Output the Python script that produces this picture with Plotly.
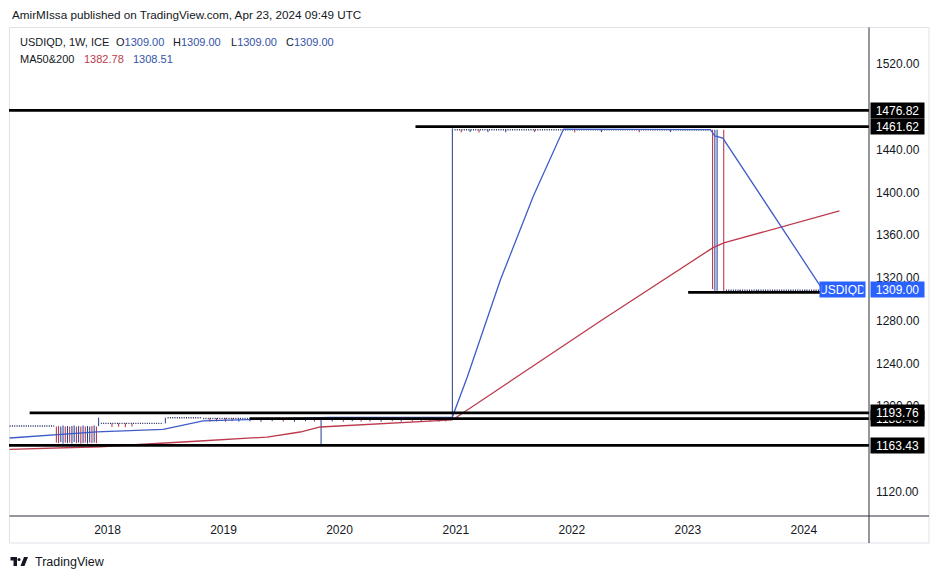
import plotly.graph_objects as go

# ---------------- data ----------------
x_range = ["2017-02-25", "2024-07-24"]
y_range = [1097.3, 1554.9]

year_ticks = ["2018-01-01", "2019-01-01", "2020-01-01", "2021-01-01",
              "2022-01-01", "2023-01-01", "2024-01-01"]
year_labels = ["2018", "2019", "2020", "2021", "2022", "2023", "2024"]
# 1160 and 1480 are fully hidden behind level labels in the reference
price_ticks = [1120, 1200, 1240, 1280, 1320, 1360, 1400, 1440, 1520]

# flat stretches of weekly bars (O=H=L=C) that show as a dotted row
row_start = ["2017-02-27", "2017-12-11", "2018-07-09", "2018-10-29", "2020-12-28", "2023-05-01"]
row_end = ["2017-07-17", "2018-06-25", "2018-10-22", "2020-12-14", "2023-03-13", "2024-04-22"]
row_level = [1181.5, 1184.0, 1189.3, 1188.6, 1458.8, 1308.5]

# weekly bars that have a visible range (date, high, low, direction)
bar_dates = [
    "2017-07-24", "2017-07-31", "2017-08-07", "2017-08-14", "2017-08-21", "2017-08-28",
    "2017-09-04", "2017-09-11", "2017-09-18", "2017-09-25", "2017-10-02", "2017-10-09",
    "2017-10-16", "2017-10-23", "2017-10-30", "2017-11-06", "2017-11-13", "2017-11-20",
    "2017-11-27", "2017-12-04",
    "2018-01-15", "2018-02-05", "2018-02-26", "2018-03-19", "2018-07-02",
    "2018-11-19", "2018-12-10", "2019-01-07", "2019-01-28", "2019-02-18", "2019-03-25",
    "2019-04-29", "2019-06-03", "2019-07-08", "2019-08-12", "2019-09-16", "2019-10-14",
    "2019-11-04", "2019-12-09", "2020-01-13", "2020-02-10", "2020-03-09", "2020-04-06",
    "2020-05-11", "2020-06-15", "2020-07-13", "2020-08-17", "2020-09-14", "2020-10-12",
    "2020-11-09", "2020-11-30", "2020-12-21",
    "2021-01-18", "2021-02-15", "2021-03-15", "2021-04-12", "2021-06-07", "2021-09-06",
    "2022-01-10", "2022-04-04", "2022-08-01", "2022-11-07",
    "2023-03-20", "2023-03-27", "2023-04-03", "2023-04-24",
    "2023-06-12", "2023-08-07", "2023-10-02", "2023-11-20", "2024-01-08", "2024-02-05",
]
bar_high = [
    1181.0, 1181.5, 1181.0, 1182.0, 1181.0, 1181.5,
    1181.0, 1181.5, 1182.0, 1181.0, 1181.5, 1181.0,
    1182.0, 1181.0, 1181.5, 1181.0, 1181.5, 1182.0,
    1181.0, 1189.3,
    1184.0, 1184.0, 1184.0, 1184.0, 1189.3,
    1188.8, 1188.8, 1188.8, 1188.8, 1188.8, 1188.8,
    1188.8, 1188.8, 1188.8, 1188.8, 1188.8, 1188.8,
    1188.8, 1188.8, 1188.8, 1188.8, 1188.8, 1188.8,
    1188.8, 1188.8, 1188.8, 1188.8, 1188.8, 1188.8,
    1188.8, 1188.8, 1460.0,
    1458.8, 1458.8, 1458.8, 1458.8, 1458.8, 1458.8,
    1458.8, 1458.8, 1458.8, 1458.8,
    1458.8, 1458.8, 1458.8, 1458.8,
    1308.6, 1308.6, 1308.6, 1308.6, 1308.6, 1308.6,
]
bar_low = [
    1166.0, 1165.5, 1166.5, 1165.0, 1166.0, 1165.5,
    1166.0, 1165.0, 1166.5, 1165.5, 1166.0, 1165.0,
    1165.5, 1166.0, 1165.0, 1166.0, 1165.5, 1166.0,
    1165.5, 1181.5,
    1180.6, 1180.8, 1180.4, 1181.0, 1184.0,
    1185.6, 1185.8, 1185.5, 1186.0, 1185.6, 1185.9,
    1185.5, 1186.0, 1185.7, 1185.5, 1186.0, 1185.6,
    1163.5, 1185.8, 1185.5, 1186.0, 1185.6, 1185.8,
    1185.5, 1186.0, 1185.6, 1185.8, 1185.5, 1186.0,
    1185.6, 1185.8, 1188.6,
    1456.3, 1456.6, 1456.2, 1456.5, 1456.4, 1456.6,
    1456.3, 1456.5, 1456.4, 1456.6,
    1309.6, 1308.0, 1308.0, 1307.2,
    1306.0, 1306.3, 1306.0, 1306.2, 1306.1, 1306.0,
]
bar_dir = [
    "d", "d", "u", "u", "d", "u",
    "d", "u", "u", "d", "u", "d",
    "u", "d", "u", "u", "d", "u",
    "d", "u",
    "d", "d", "d", "d", "u",
    "d", "d", "d", "d", "u", "u",
    "u", "u", "d", "u", "u", "d",
    "u", "u", "d", "u", "d", "d",
    "u", "d", "u", "d", "u", "d",
    "u", "u", "u",
    "d", "u", "d", "u", "u", "d",
    "d", "u", "d", "u",
    "d", "u", "u", "d",
    "d", "u", "d", "u", "u", "d",
]

# moving averages
ma200_dates = ["2017-02-27", "2017-12-08", "2018-10-19", "2019-05-18", "2019-08-30",
               "2019-11-01", "2020-12-21", "2022-04-01", "2023-03-20", "2023-04-24",
               "2024-04-22"]
ma200_vals = [1159.7, 1162.1, 1167.5, 1171.2, 1175.9, 1180.6, 1187.2, 1279.8,
              1348.2, 1352.9, 1382.78]
ma50_dates = ["2017-02-27", "2017-11-28", "2018-06-25", "2018-10-29", "2019-12-03",
              "2020-12-21", "2021-02-06", "2021-05-21", "2021-09-02", "2021-12-06",
              "2023-03-13", "2023-03-27", "2023-04-21", "2024-02-26", "2024-04-22"]
ma50_vals = [1170.3, 1176.1, 1178.4, 1186.4, 1189.6, 1189.9, 1227.4, 1318.1,
             1396.7, 1459.4, 1458.8, 1452.9, 1451.0, 1310.6, 1308.51]

# horizontal levels drawn by the author
level_vals = [1476.82, 1461.62, 1193.76, 1188.40, 1163.43, 1306.50]
level_start = ["2017-02-25", "2020-08-27", "2017-05-01", "2019-03-25", "2017-02-25", "2023-01-02"]
level_end = ["2024-07-24", "2024-07-24", "2024-07-24", "2024-07-24", "2024-07-24", "2024-04-22"]

# price-scale labels (drawn in this order; later ones sit on top)
scale_label_vals = [1188.40, 1193.76, 1163.43, 1461.62, 1476.82, 1309.00]
scale_label_bg = ["#000000", "#000000", "#000000", "#000000", "#000000", "#2962ff"]

symbol = "USDIQD"
last_price = 1309.00

# ---------------- styling helpers ----------------
FONT = "Liberation Sans"
DARK = "#131722"
UP = "#233a8f"
DOWN = "#ad2a40"
MA_RED = "#bb3a4c"
MA_BLUE = "#3e5cc8"
VAL_BLUE = "#3452a8"

L, R, T, B = 9, 869, 27, 516  # plot area in pixels


def xp(px):
    return (px - L) / (R - L)


def yp(py):
    return (B - py) / (B - T)


fig = go.Figure()

# dotted rows of flat weekly bars
for s, e, v in zip(row_start, row_end, row_level):
    fig.add_trace(go.Scatter(
        x=[s, e], y=[v, v], mode="lines",
        line=dict(color="#1f2a5c", width=1.4, dash="1px,1.3px"),
        hoverinfo="skip", showlegend=False))

# bars with a range
for d_key, col in (("u", UP), ("d", DOWN)):
    xs, ys = [], []
    for d, h, lo, k in zip(bar_dates, bar_high, bar_low, bar_dir):
        if k == d_key:
            xs += [d, d, None]
            ys += [lo, h, None]
    fig.add_trace(go.Scatter(x=xs, y=ys, mode="lines",
                             line=dict(color=col, width=1),
                             hoverinfo="skip", showlegend=False))

# moving averages
fig.add_trace(go.Scatter(x=ma200_dates, y=ma200_vals, mode="lines",
                         line=dict(color=MA_RED, width=1.3), showlegend=False))
fig.add_trace(go.Scatter(x=ma50_dates, y=ma50_vals, mode="lines",
                         line=dict(color=MA_BLUE, width=1.3), showlegend=False))

shapes = []
# horizontal levels
for v, s, e in zip(level_vals, level_start, level_end):
    shapes.append(dict(type="line", xref="x", yref="y", x0=s, x1=e, y0=v, y1=v,
                       line=dict(color="#000000", width=2.7), layer="above"))

# chart frame and axis separators
shapes.append(dict(type="rect", xref="paper", yref="paper",
                   x0=xp(9.5), x1=xp(929), y0=yp(543), y1=yp(27.5),
                   line=dict(color="#dfe2e9", width=1), layer="below"))
shapes.append(dict(type="line", xref="paper", yref="paper",
                   x0=xp(869), x1=xp(869), y0=yp(543), y1=yp(27.5),
                   line=dict(color="#2a2e39", width=1)))
shapes.append(dict(type="line", xref="paper", yref="paper",
                   x0=xp(9.5), x1=xp(929), y0=yp(516), y1=yp(516),
                   line=dict(color="#2a2e39", width=1)))

# TradingView logo mark
shapes.append(dict(type="rect", xref="paper", yref="paper", x0=xp(10.5), x1=xp(17),
                   y0=yp(560.5), y1=yp(557), fillcolor=DARK, line=dict(width=0)))
shapes.append(dict(type="rect", xref="paper", yref="paper", x0=xp(13.5), x1=xp(17),
                   y0=yp(566), y1=yp(557), fillcolor=DARK, line=dict(width=0)))
shapes.append(dict(type="circle", xref="paper", yref="paper", x0=xp(17.5), x1=xp(20.5),
                   y0=yp(561), y1=yp(558), fillcolor=DARK, line=dict(width=0)))
shapes.append(dict(type="path", xref="paper", yref="paper",
                   path=f"M {xp(20.5)} {yp(566)} L {xp(24)} {yp(557)} L {xp(28)} {yp(557)} "
                        f"L {xp(24.5)} {yp(566)} Z",
                   fillcolor=DARK, line=dict(width=0)))

ann = []


def text_ann(txt, px, py, size=11, color=DARK, anchor="left"):
    ann.append(dict(text=txt, xref="paper", yref="paper", x=xp(px), y=yp(py),
                    xanchor=anchor, yanchor="middle", showarrow=False,
                    font=dict(family=FONT, size=size, color=color)))


text_ann("AmirMIssa published on TradingView.com, Apr 23, 2024 09:49 UTC", 10, 15, size=11.7)
text_ann("USDIQD, 1W, ICE", 18, 42.3)
text_ann(f"O<span style='color:{VAL_BLUE}'>{last_price:.2f}</span>", 114, 42.3)
text_ann(f"H<span style='color:{VAL_BLUE}'>{last_price:.2f}</span>", 171, 42.3)
text_ann(f"L<span style='color:{VAL_BLUE}'>{last_price:.2f}</span>", 229, 42.3)
text_ann(f"C<span style='color:{VAL_BLUE}'>{last_price:.2f}</span>", 284, 42.3)
text_ann("MA50&amp;200", 18, 59.3)
text_ann(f"<span style='color:{MA_RED}'>{ma200_vals[-1]:.2f}</span>", 81.5, 59.3)
text_ann(f"<span style='color:{VAL_BLUE}'>{ma50_vals[-1]:.2f}</span>", 131, 59.3)
text_ann("TradingView", 33, 562, size=12.5)

# price scale labels
for v, bg in zip(scale_label_vals, scale_label_bg):
    ann.append(dict(text=f"{v:.2f}", xref="paper", yref="y", x=xp(870), y=v,
                    xanchor="left", yanchor="middle", showarrow=False,
                    width=50, height=12, borderpad=1.5, bgcolor=bg, align="center",
                    font=dict(family=FONT, size=12, color="#ffffff")))
# symbol label at last price
ann.append(dict(text=symbol, xref="paper", yref="y", x=xp(866), y=last_price,
                xanchor="right", yanchor="middle", showarrow=False,
                width=42, height=12, borderpad=1.5, bgcolor="#2962ff", align="center",
                font=dict(family=FONT, size=12, color="#ffffff")))

fig.update_layout(
    width=939, height=579,
    margin=dict(l=L, r=939 - R, t=T, b=579 - B),
    paper_bgcolor="#ffffff", plot_bgcolor="#ffffff",
    showlegend=False,
    shapes=shapes, annotations=ann,
    xaxis=dict(type="date", range=x_range, tickvals=year_ticks, ticktext=year_labels,
               ticks="", showgrid=False, zeroline=False, showline=False,
               tickfont=dict(family=FONT, size=12, color=DARK),
               ticklabelstandoff=5, fixedrange=True),
    yaxis=dict(side="right", range=y_range, tickvals=price_ticks, tickformat=".2f",
               ticks="", showgrid=False, zeroline=False, showline=False,
               tickfont=dict(family=FONT, size=12, color=DARK),
               ticklabelstandoff=6, fixedrange=True),
)

fig.write_html("out.html", config={"displayModeBar": False},
               post_script="document.body.style.margin='0';document.body.style.overflow='hidden';")
